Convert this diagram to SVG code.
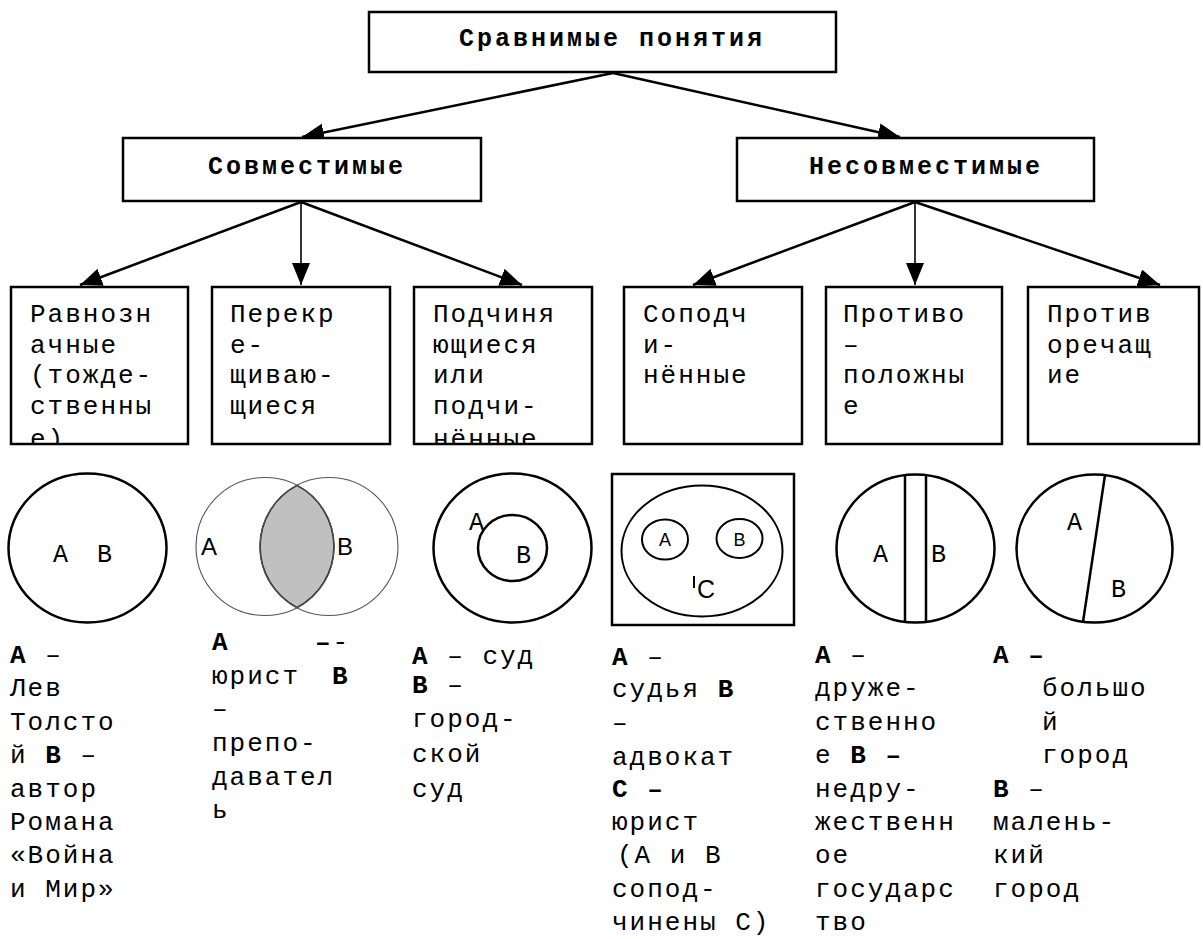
<svg xmlns="http://www.w3.org/2000/svg" width="1203" height="939" viewBox="0 0 1203 939">
<style>
.box{fill:#fff;stroke:#000;stroke-width:2.5}
.t{font-family:"Liberation Mono","Courier New",monospace;font-size:26px;letter-spacing:2px;fill:#000}
.h{font-family:"Liberation Mono","Courier New",monospace;font-size:25px;font-weight:bold;letter-spacing:3px;text-anchor:middle;fill:#000}
.b{font-weight:bold}
.c{fill:none;stroke:#000;stroke-width:2.5}
.lm{font-family:"Liberation Mono","Courier New",monospace;font-size:25px;fill:#000}
.ls{font-family:"Liberation Sans",Arial,sans-serif;fill:#000}
.conn{stroke:#000;stroke-width:2.5;fill:none}
.thin{stroke-width:1.6}
</style>
<defs>
<marker id="arr" markerWidth="24" markerHeight="18" refX="22" refY="9" orient="auto" markerUnits="userSpaceOnUse"><path d="M0,0 L22,9 L0,18 z" fill="#000"/></marker>
<clipPath id="cb1"><rect x="12" y="288" width="175" height="155"/></clipPath>
<clipPath id="cb3"><rect x="415" y="288" width="176" height="155"/></clipPath>
</defs>

<g id="connectors">
<line class="conn" x1="613" y1="73" x2="302" y2="137" marker-end="url(#arr)"/>
<line class="conn" x1="613" y1="73" x2="900" y2="137" marker-end="url(#arr)"/>
<line class="conn" x1="301" y1="202" x2="80" y2="285" marker-end="url(#arr)"/>
<line class="conn thin" x1="301" y1="202" x2="301" y2="285" marker-end="url(#arr)"/>
<line class="conn" x1="301" y1="202" x2="522" y2="285" marker-end="url(#arr)"/>
<line class="conn" x1="915" y1="202" x2="693" y2="285" marker-end="url(#arr)"/>
<line class="conn thin" x1="915" y1="202" x2="915" y2="285" marker-end="url(#arr)"/>
<line class="conn" x1="915" y1="202" x2="1160" y2="285" marker-end="url(#arr)"/>
</g>

<g id="node-root">
<rect class="box" x="369" y="12" width="467" height="60"/>
<text class="h" x="612" y="46">Сравнимые понятия</text>
</g>
<g id="node-compatible">
<rect class="box" x="123" y="138" width="358" height="63"/>
<text class="h" x="307" y="174">Совместимые</text>
</g>
<g id="node-incompatible">
<rect class="box" x="737" y="138" width="357" height="63"/>
<text class="h" x="926" y="174">Несовместимые</text>
</g>

<g id="node-equivalent">
<rect class="box" x="11" y="287" width="177" height="157"/>
<g clip-path="url(#cb1)">
<text class="t" x="30" y="322">Равнозн</text>
<text class="t" x="30" y="352.5">ачные</text>
<text class="t" x="30" y="383">(тожде-</text>
<text class="t" x="30" y="413.5">ственны</text>
<text class="t" x="30" y="447">е)</text>
</g>
</g>
<g id="node-overlapping">
<rect class="box" x="212" y="287" width="178" height="157"/>
<text class="t" x="230" y="322">Перекр</text>
<text class="t" x="230" y="352.5">е-</text>
<text class="t" x="230" y="383">щиваю-</text>
<text class="t" x="230" y="413.5">щиеся</text>
</g>
<g id="node-subordinating">
<rect class="box" x="414" y="287" width="178" height="157"/>
<g clip-path="url(#cb3)">
<text class="t" x="433" y="322">Подчиня</text>
<text class="t" x="433" y="352.5">ющиеся</text>
<text class="t" x="433" y="383">или</text>
<text class="t" x="433" y="413.5">подчи-</text>
<text class="t" x="433" y="447">нённые</text>
</g>
</g>
<g id="node-cosubordinate">
<rect class="box" x="624" y="287" width="178" height="157"/>
<text class="t" x="643" y="322">Соподч</text>
<text class="t" x="643" y="352.5">и-</text>
<text class="t" x="643" y="383">нённые</text>
</g>
<g id="node-opposite">
<rect class="box" x="826" y="287" width="176" height="157"/>
<text class="t" x="843" y="322">Противо</text>
<text class="t" x="843" y="352.5">–</text>
<text class="t" x="843" y="383">положны</text>
<text class="t" x="843" y="413.5">е</text>
</g>
<g id="node-contradictory">
<rect class="box" x="1028" y="287" width="171" height="157"/>
<text class="t" x="1047" y="322">Против</text>
<text class="t" x="1047" y="352.5">оречащ</text>
<text class="t" x="1047" y="383">ие</text>
</g>

<g id="diagram-equivalent">
<ellipse class="c" cx="87.5" cy="548" rx="79" ry="74.5"/>
<text class="lm" x="53" y="562">А</text>
<text class="lm" x="97" y="562">В</text>
</g>
<g id="diagram-overlapping">
<path d="M297,485.4 A69,69 0 0 1 297,607.6 A69,69 0 0 1 297,485.4 Z" fill="#c0c0c0" stroke="#1a1a1a" stroke-width="1.6"/>
<circle cx="265" cy="546.5" r="69" fill="none" stroke="#555" stroke-width="1.1"/>
<circle cx="329" cy="546.5" r="69" fill="none" stroke="#555" stroke-width="1.1"/>
<text class="ls" x="201" y="555" font-size="24">А</text>
<text class="ls" x="337" y="555" font-size="24">В</text>
</g>
<g id="diagram-subordinating">
<ellipse class="c" cx="512.5" cy="548" rx="79" ry="74.5"/>
<ellipse class="c" cx="512.5" cy="548" rx="34.5" ry="33"/>
<text class="lm" x="469" y="530" font-size="23">А</text>
<text class="lm" x="516" y="563" font-size="23">В</text>
</g>
<g id="diagram-cosubordinate">
<rect x="612" y="474" width="182" height="151" fill="#fff" stroke="#000" stroke-width="2.5"/>
<ellipse cx="702" cy="551" rx="80.5" ry="65.5" fill="none" stroke="#000" stroke-width="2"/>
<ellipse cx="665" cy="539.5" rx="23" ry="20" fill="none" stroke="#000" stroke-width="2"/>
<ellipse cx="739.5" cy="538.5" rx="23" ry="19.5" fill="none" stroke="#000" stroke-width="2"/>
<text class="ls" x="665" y="546" font-size="18" text-anchor="middle">А</text>
<text class="ls" x="739.5" y="546" font-size="18" text-anchor="middle">В</text>
<line x1="694" y1="576" x2="694" y2="588" stroke="#000" stroke-width="2"/>
<text class="ls" x="697" y="598" font-size="25">C</text>
</g>
<g id="diagram-opposite">
<ellipse class="c" cx="915.5" cy="548.5" rx="79" ry="74"/>
<line x1="905" y1="475" x2="905" y2="622" stroke="#000" stroke-width="2.5"/>
<line x1="926" y1="475" x2="926" y2="622" stroke="#000" stroke-width="2.5"/>
<text class="lm" x="873" y="562">А</text>
<text class="lm" x="931" y="562">В</text>
</g>
<g id="diagram-contradictory">
<ellipse class="c" cx="1094.5" cy="548.5" rx="78" ry="74"/>
<line x1="1105" y1="475" x2="1083" y2="622" stroke="#000" stroke-width="2.5"/>
<text class="lm" x="1067" y="530" font-size="23">А</text>
<text class="lm" x="1111" y="597" font-size="23">В</text>
</g>

<g id="example-equivalent">
<text class="t" x="10" y="663"><tspan class="b">А</tspan> –</text>
<text class="t" x="10" y="696">Лев</text>
<text class="t" x="10" y="730">Толсто</text>
<text class="t" x="10" y="763">й <tspan class="b">В</tspan> –</text>
<text class="t" x="10" y="797">автор</text>
<text class="t" x="10" y="830">Романа</text>
<text class="t" x="10" y="863">«Война</text>
<text class="t" x="10" y="897">и Мир»</text>
</g>
<g id="example-overlapping">
<text class="t" x="212" y="650"><tspan class="b">А</tspan><tspan x="315" class="b">–</tspan>-</text>
<text class="t" x="212" y="684">юрист<tspan x="332" class="b">В</tspan></text>
<text class="t" x="212" y="717">–</text>
<text class="t" x="212" y="751">препо-</text>
<text class="t" x="212" y="785">давател</text>
<text class="t" x="212" y="818">ь</text>
</g>
<g id="example-subordinating">
<text class="t" x="412" y="664"><tspan class="b">А</tspan> – суд</text>
<text class="t" x="412" y="693"><tspan class="b">В</tspan> –</text>
<text class="t" x="412" y="727">город-</text>
<text class="t" x="412" y="762">ской</text>
<text class="t" x="412" y="797">суд</text>
</g>
<g id="example-cosubordinate">
<text class="t" x="612" y="665"><tspan class="b">А</tspan> –</text>
<text class="t" x="612" y="697">судья <tspan class="b">В</tspan></text>
<text class="t" x="612" y="731">–</text>
<text class="t" x="612" y="765">адвокат</text>
<text class="t b" x="612" y="797">С –</text>
<text class="t" x="612" y="830">юрист</text>
<text class="t" x="617" y="863">(А и В</text>
<text class="t" x="612" y="897">сопод-</text>
<text class="t" x="612" y="930">чинены С)</text>
</g>
<g id="example-opposite">
<text class="t" x="815" y="663"><tspan class="b">А</tspan> –</text>
<text class="t" x="815" y="696">друже-</text>
<text class="t" x="815" y="730">ственно</text>
<text class="t" x="815" y="763">е <tspan class="b">В –</tspan></text>
<text class="t" x="815" y="797">недру-</text>
<text class="t" x="815" y="830">жественн</text>
<text class="t" x="815" y="863">ое</text>
<text class="t" x="815" y="897">государс</text>
<text class="t" x="815" y="930">тво</text>
</g>
<g id="example-contradictory">
<text class="t b" x="993" y="663">А –</text>
<text class="t" x="1042" y="696">большо</text>
<text class="t" x="1042" y="730">й</text>
<text class="t" x="1042" y="763">город</text>
<text class="t" x="993" y="797"><tspan class="b">В</tspan> –</text>
<text class="t" x="993" y="830">малень-</text>
<text class="t" x="993" y="863">кий</text>
<text class="t" x="993" y="897">город</text>
</g>
</svg>
